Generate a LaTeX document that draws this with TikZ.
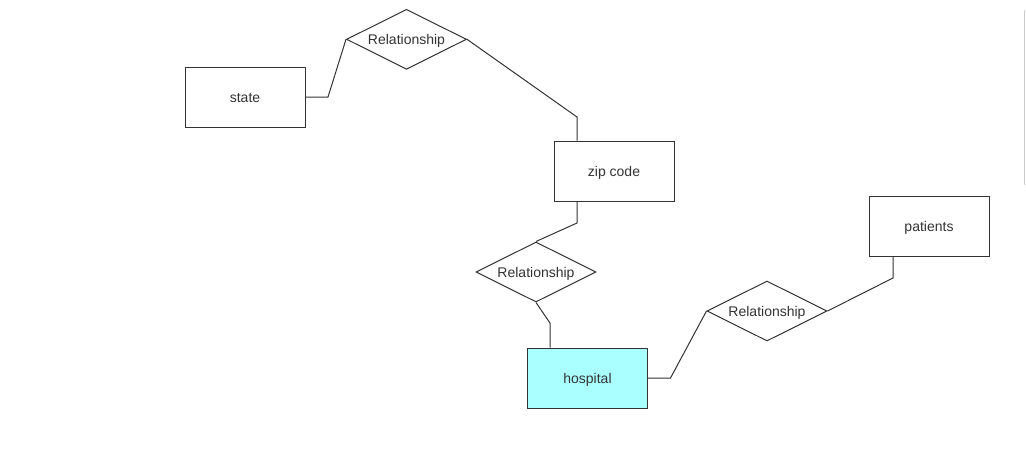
\documentclass[tikz,border=0pt]{standalone}
\usepackage{fontspec}
\setmainfont{Liberation Sans}
\usetikzlibrary{shapes.geometric}
\definecolor{linec}{HTML}{333333}
\definecolor{textc}{HTML}{333333}
\definecolor{hospfill}{HTML}{AAFFFF}
\newcommand{\mylbl}[1]{\raisebox{-1.5pt}[\height][\depth]{#1}}
\begin{document}
\begin{tikzpicture}[x=1pt,y=-1pt,
  entity/.style={draw=linec,line width=1pt,fill=white,minimum width=120pt,minimum height=60pt,inner sep=0pt,text=textc,font=\fontsize{14}{16}\selectfont},
  rel/.style={draw=linec,line width=1pt,fill=white,diamond,minimum width=120pt,minimum height=60pt,inner sep=0pt,aspect=2,text=textc,font=\fontsize{14}{16}\selectfont},
  conn/.style={draw=linec,line width=1pt}]
\useasboundingbox (0,0) rectangle (1026,467);
\fill[white] (0,0) rectangle (1026,467);
\draw[gray!40,line width=1pt] (1024.5,10) -- (1024.5,185);
\node[entity] (state) at (245,97) {\mylbl{state}};
\node[rel] (r1) at (406.5,39.3) {\mylbl{Relationship}};
\node[entity] (zip) at (614,171) {\mylbl{zip code}};
\node[rel] (r2) at (536,272) {\mylbl{Relationship}};
\node[entity,fill=hospfill] (hosp) at (587.5,378) {\mylbl{hospital}};
\node[rel] (r3) at (767,311) {\mylbl{Relationship}};
\node[entity] (pat) at (929,226) {\mylbl{patients}};
\coordinate (c1) at (328,97);
\coordinate (c2) at (577,117);
\coordinate (c3) at (577,223);
\coordinate (c4) at (550,323);
\coordinate (c5) at (670.5,378);
\coordinate (c6) at (893,278);
\draw[conn] (state.east) -- (c1) -- (r1.west);
\draw[conn] (r1.east) -- (c2) -- (c2 |- zip.north);
\draw[conn] (c3 |- zip.south) -- (c3) -- (r2.north);
\draw[conn] (r2.south) -- (c4) -- (c4 |- hosp.north);
\draw[conn] (hosp.east) -- (c5) -- (r3.west);
\draw[conn] (r3.east) -- (c6) -- (c6 |- pat.south);
\end{tikzpicture}
\end{document}
